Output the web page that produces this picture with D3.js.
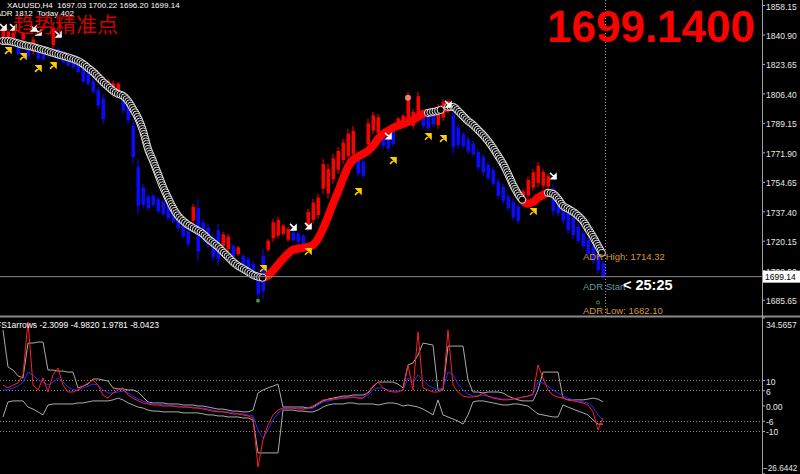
<!DOCTYPE html>
<html><head><meta charset="utf-8">
<script src="https://cdn.jsdelivr.net/npm/d3@7"></script>
<style>html,body{margin:0;padding:0;background:#000;overflow:hidden}svg{display:block}</style>
</head><body><svg id="c" width="800" height="474"></svg>
<script>
// ---------------- DATA ----------------
const priceTicks = [1858.15,1840.90,1823.65,1806.40,1789.15,1771.90,1754.65,1737.40,1720.15,1702.90,1685.65];
const subTicks = [34.5657,10,6,0,-6,-10,-26.6442];
const subLevels = [10,6,-6,-10];
const lastPrice = 1699.14;

const barHigh = [1845.3,1844.1,1843.0,1835.4,1842.4,1835.4,1839.5,1834.2,1832.5,1833.6,
1847.1,1833.6,1831.3,1828.4,1826.6,1825.4,1821.9,1819.6,1814.9,1810.2,
1806.1,1814.9,1813.7,1813.1,1807.9,1803.2,1791.5,1768.1,1753.5,1747.6,
1747.6,1745.9,1744.7,1741.8,1738.9,1735.9,1730.1,1727.2,1741.8,1744.7,
1733.0,1730.1,1724.2,1730.1,1725.4,1724.2,1718.4,1717.2,1712.5,1710.8,
1708.4,1703.8,1715.5,1721.3,1733.0,1734.2,1730.1,1728.3,1726.0,1725.4,
1724.2,1738.9,1744.7,1747.6,1768.1,1765.2,1771.0,1775.1,1779.8,1785.7,
1787.4,1769.9,1768.1,1791.5,1795.6,1794.4,1785.7,1784.5,1786.8,1792.7,
1794.4,1807.3,1797.3,1807.3,1795.6,1794.4,1795.6,1800.3,1803.2,1803.2,
1797.3,1788.6,1783.9,1781.0,1778.6,1774.0,1771.0,1766.3,1763.4,1756.4,
1753.5,1747.6,1744.7,1741.8,1750.6,1757.6,1762.2,1766.3,1762.2,1759.3,
1753.5,1747.6,1741.8,1738.9,1735.9,1730.1,1726.0,1722.5,1718.4,1715.5,1708.4];
const barLow = [1835.4,1834.2,1834.8,1828.4,1837.1,1826.6,1829.5,1825.4,1825.4,1827.8,
1832.5,1825.4,1823.7,1821.9,1820.8,1817.8,1812.0,1810.8,1806.1,1797.3,
1788.6,1807.9,1804.4,1806.1,1794.4,1788.6,1765.2,1735.9,1738.9,1737.7,
1740.0,1735.9,1734.2,1731.8,1730.1,1726.0,1721.3,1716.6,1730.1,1708.4,
1719.5,1715.5,1708.4,1705.5,1715.5,1713.7,1709.6,1711.4,1704.9,1700.8,
1696.7,1686.2,1686.2,1713.7,1719.5,1721.3,1723.1,1719.5,1719.5,1718.4,
1717.2,1726.0,1730.1,1733.0,1747.6,1744.7,1753.5,1759.3,1765.2,1766.9,
1768.1,1757.6,1756.4,1774.0,1782.7,1781.6,1774.0,1772.2,1775.1,1785.7,
1786.8,1788.6,1785.7,1790.3,1785.7,1784.5,1786.8,1785.7,1790.3,1794.4,
1771.0,1774.0,1774.0,1771.0,1769.3,1761.1,1758.2,1755.2,1751.7,1744.7,
1741.8,1737.7,1731.8,1730.1,1740.6,1744.7,1749.4,1751.7,1750.6,1750.6,
1734.8,1734.2,1730.1,1724.2,1721.3,1718.4,1715.5,1710.8,1706.7,1700.8,1697.9];
const barColor = ("rrrbrbrbbb"+"rbbbbbbbbb"+"brrrbbbbbb"+"bbbbbbbbrb"+"bbbbrrbrbb"+"bbbrrrrrbb"+
  "brrrrrrrrr"+"rbbrrrbbbr"+"rrrrbbbrrr"+"bbbbbbbbbb"+"bbbbrrrrrr"+"bbbbbbbbbbb").split("");

const maValue = [1837.1,1837.1,1836.5,1835.7,1834.8,1834.2,1833.6,1832.7,1831.9,1831.0,
1830.1,1829.2,1828.4,1827.5,1826.6,1825.4,1823.7,1821.3,1819.0,1816.1,
1813.1,1810.5,1807.9,1806.1,1805.0,1802.0,1797.3,1792.1,1784.5,1774.0,
1766.9,1759.3,1751.7,1745.3,1739.4,1734.8,1731.8,1729.5,1727.7,1726.0,
1724.2,1721.3,1719.0,1716.6,1713.7,1710.8,1707.8,1705.5,1703.8,1702.0,
1700.2,1699.1,1698.5,1699.7,1702.6,1706.1,1709.6,1712.5,1714.9,1715.5,
1716.0,1716.6,1717.8,1721.3,1727.2,1734.2,1741.8,1748.8,1756.4,1763.4,
1767.5,1769.3,1771.0,1772.8,1775.7,1779.8,1782.7,1784.5,1786.2,1787.4,
1788.6,1789.7,1790.9,1792.7,1794.4,1795.0,1795.6,1796.2,1797.3,1798.5,
1798.5,1796.2,1793.2,1790.3,1788.0,1785.1,1782.1,1778.6,1774.5,1769.9,
1765.2,1759.3,1752.9,1747.6,1743.5,1741.8,1742.9,1745.3,1747.0,1748.2,
1747.6,1744.7,1740.6,1738.9,1737.1,1734.8,1731.8,1727.2,1722.5,1717.2,1711.9];
const maTrend = ("uddddddddd"+"dddddddddd"+"dddddddddd"+"dddddddddd"+"dddddddddd"+"dduuuuuuuu"+
  "uuuuuuuuuu"+"uuuuuuuuuu"+"uuuuuudduu"+"dddddddddd"+"dddduuuuuu"+"ddddddddddd").split("");

const upArrowIdx   = [1,4,7,10,52,61,71,78,85,88,106];
const upArrowPrice = [1831.3,1827.8,1820.8,1822.5,1703.8,1713.7,1748.8,1766.9,1781.0,1779.8,1737.1];
const dnArrowIdx   = [0,2,6,7,11,58,61,77,89,110];
const dnArrowPrice = [1845.3,1845.3,1844.7,1842.4,1841.2,1728.3,1728.9,1781.6,1800.3,1758.2];

const subUpper = [29.6,15.1,13.9,11.6,10.8,24.5,24.5,24.9,24.9,13.9,
13.9,13.5,13.5,13.1,13.1,6.9,7.6,8.4,10.4,10.4,
10.0,9.6,6.9,6.5,6.5,6.1,6.1,5.3,3.3,1.4,
1.0,1.0,1.0,0.6,0.6,0.6,0.2,0.2,0.2,-0.2,
-0.2,-0.6,-1.0,-1.4,-1.4,-1.8,-2.2,-2.2,-2.5,-2.5,
-1.8,4.9,6.1,6.9,7.6,8.4,-0.6,-0.6,-0.6,-0.6,
-0.6,-1.0,-0.6,0.6,1.8,2.5,2.9,3.3,3.7,3.7,
4.1,4.1,4.1,4.9,7.3,9.2,9.2,9.2,9.2,8.4,
6.9,15.9,16.7,19.8,24.5,24.1,23.7,6.1,6.1,23.3,
23.3,23.3,23.3,10.0,5.3,5.3,4.9,5.3,5.3,5.3,
4.9,3.7,2.9,2.2,1.8,1.8,1.8,6.1,13.1,13.1,
13.1,13.1,2.9,2.2,2.2,2.2,2.2,2.5,2.9,2.5,1.4];
const subLower = [-4.5,1.4,1.8,1.8,1.8,-0.6,-1.4,-2.5,-3.7,0.2,
0.6,0.6,0.6,0.6,0.6,1.0,1.0,1.4,1.8,1.8,
1.8,1.8,2.2,2.9,2.2,1.0,0.2,-0.6,-1.0,-1.8,
-2.2,-2.2,-2.5,-2.5,-2.5,-2.5,-2.9,-2.9,-2.9,-2.9,
-3.3,-3.7,-3.7,-4.1,-4.1,-4.5,-4.5,-4.5,-4.9,-4.9,
-5.7,-18.6,-18.6,-18.6,-18.6,-18.6,-1.8,-1.8,-1.8,-2.2,
-2.2,-2.5,-2.5,-1.8,-0.6,0.2,0.6,0.6,0.6,1.0,
1.0,0.6,0.6,0.6,0.6,0.2,0.6,1.0,1.0,0.6,
-0.2,0.2,-0.2,-0.6,-1.4,-2.5,-3.7,2.2,-3.7,-4.5,
-5.3,-6.1,-7.3,-3.7,1.4,1.8,1.8,1.4,1.0,0.6,
0.2,0.2,0.6,0.6,0.2,-0.2,-1.8,-3.3,-3.7,-4.1,
-4.5,-4.5,0.2,-0.6,-1.4,-2.2,-2.9,-3.7,-5.7,-7.3,-7.3];
const subRed = [8.0,6.9,8.0,8.8,12.0,32.8,8.0,6.1,10.8,5.3,
12.0,14.7,8.0,5.3,5.3,6.1,7.6,8.8,10.0,8.0,
4.1,2.9,4.9,6.1,6.9,4.1,2.9,1.8,1.0,0.6,
0.2,0.2,-0.2,-0.2,-0.2,-0.6,-0.6,-0.6,-1.0,-1.0,
-1.4,-1.8,-2.2,-2.5,-2.5,-2.9,-3.3,-3.3,-3.7,-4.1,
-4.9,-24.1,-13.5,-7.6,-3.7,-1.8,-1.0,-1.0,-1.0,-1.4,
-1.4,-1.0,-0.2,1.0,2.2,2.2,2.5,2.9,2.9,3.3,
3.3,2.9,2.9,5.3,7.6,9.2,6.9,5.7,5.3,5.3,
6.1,15.9,6.1,28.8,6.9,6.1,5.3,5.3,6.1,29.6,
8.0,5.3,3.7,3.3,3.3,3.7,4.9,3.7,2.9,2.5,
2.2,2.2,2.5,2.9,3.3,3.7,4.5,15.9,10.8,6.1,
4.1,3.3,2.9,2.2,1.8,1.4,1.0,0.2,-2.5,-9.6,-4.9];
const subBlue = [6.1,6.1,6.9,7.6,9.2,13.1,12.0,10.0,9.2,8.0,
9.2,10.8,9.2,7.3,6.1,6.1,6.9,7.6,8.4,8.0,
6.1,4.9,4.9,5.3,5.7,4.9,3.7,2.5,1.8,1.0,
0.6,0.6,0.2,0.2,-0.2,-0.2,-0.6,-0.6,-0.6,-1.0,
-1.0,-1.4,-1.8,-2.2,-2.5,-2.5,-2.9,-3.3,-3.3,-3.7,
-4.1,-9.6,-12.8,-9.6,-5.7,-2.9,-1.4,-1.0,-1.0,-1.0,
-1.4,-1.4,-1.0,0.2,1.4,1.8,2.2,2.5,2.9,2.9,
3.3,3.3,2.9,4.1,6.1,6.9,6.9,6.1,5.7,5.7,
6.1,10.8,9.2,12.0,10.0,8.0,6.9,6.1,6.9,13.1,
12.0,8.4,6.1,4.5,3.7,3.7,4.1,3.7,3.3,2.9,
2.5,2.5,2.5,2.9,3.3,3.7,4.1,9.2,8.8,7.6,
6.1,4.9,3.7,2.9,2.2,1.8,1.4,1.0,-0.6,-3.7,-5.7];

// ---------------- DRAW ----------------
const svg = d3.select('#c');
const FONT = "'Liberation Sans', Arial, sans-serif";
const axisX = 762, mainBot = 316;
svg.append('rect').attr('width',800).attr('height',474).attr('fill','#000');

const n = barHigh.length;
const x = d3.scaleLinear().domain([0, n-1]).range([3, 603]);
const y = d3.scaleLinear().domain([1676.11, 1861.08]).range([316, 0]);
const ys = d3.scaleLinear().domain([-26.6442, 34.5657]).range([473.4, 317.4]);

const defs = svg.append('defs');
defs.append('clipPath').attr('id','cm').append('rect').attr('x',0).attr('y',0).attr('width',axisX).attr('height',mainBot);
defs.append('clipPath').attr('id','cs').append('rect').attr('x',0).attr('y',318).attr('width',axisX).attr('height',156);

const gm = svg.append('g').attr('clip-path','url(#cm)');
const gs = svg.append('g').attr('clip-path','url(#cs)');

// dotted vertical
gm.append('line').attr('x1',605.5).attr('x2',605.5).attr('y1',0).attr('y2',mainBot)
  .attr('stroke','#9a9a9a').attr('stroke-dasharray','1,2');

// bars: thin wick + body
gm.selectAll('line.wick').data(d3.range(n)).join('line').attr('class','wick')
  .attr('x1', i => x(i)).attr('x2', i => x(i))
  .attr('y1', i => y(barHigh[i])).attr('y2', i => y(barLow[i]))
  .attr('stroke', i => barColor[i] === 'r' ? '#ff0000' : '#0a0aff').attr('stroke-width',1);
gm.selectAll('rect.bar').data(d3.range(n)).join('rect').attr('class','bar')
  .attr('x', i => x(i) - 1.5).attr('width', 3.5)
  .attr('y', i => y(barHigh[i]) + (y(barLow[i]) - y(barHigh[i])) * 0.15)
  .attr('height', i => Math.max(1, (y(barLow[i]) - y(barHigh[i])) * 0.7))
  .attr('fill', i => barColor[i] === 'r' ? '#ff0000' : '#0a0aff');

// MA runs
const runs = [];
let s = 0;
for (let i = 1; i <= n; i++) {
  if (i === n || maTrend[i] !== maTrend[s]) { runs.push({t: maTrend[s], s, e: i-1}); s = i; }
}
const maLine = d3.line().x(i => x(i)).y(i => y(maValue[i])).curve(d3.curveMonotoneX);
runs.filter(r => r.t === 'u').forEach(r => {
  const idx = d3.range(Math.max(0, r.s-1), Math.min(n-1, r.e+1) + 1);
  gm.append('path').attr('d', maLine(idx)).attr('fill','none')
    .attr('stroke','#ff0000').attr('stroke-width',8).attr('stroke-linecap','round');
});
runs.filter(r => r.t === 'd').forEach(r => {
  const idx = d3.range(Math.max(0, r.s-1), Math.min(n-1, r.e+1) + 1);
  const p = gm.append('path').attr('d', maLine(idx)).attr('fill','none').attr('stroke','none');
  const node = p.node(), L = node.getTotalLength();
  const pts = d3.range(0, L + 0.01, 2.6).map(l => node.getPointAtLength(l));
  gm.append('g').selectAll('circle').data(pts).join('circle')
    .attr('cx', d => d.x).attr('cy', d => d.y).attr('r', 3.6)
    .attr('fill','#000').attr('stroke','#e8e8e8').attr('stroke-width',1);
});

// arrows
const upPath = 'M-3,3 L2,-2 M3,-3 L-1.5,-3 L3,1.5 Z';
const dnPath = 'M-3,-3 L2,2 M3,3 L-1.5,3 L3,-1.5 Z';
gm.selectAll('path.up').data(d3.range(upArrowIdx.length)).join('path').attr('class','up')
  .attr('transform', k => `translate(${x(upArrowIdx[k])},${y(upArrowPrice[k])})`)
  .attr('d', upPath).attr('stroke','#ffd000').attr('stroke-width',1.6).attr('fill','#ffd000');
gm.selectAll('path.dn').data(d3.range(dnArrowIdx.length)).join('path').attr('class','dn')
  .attr('transform', k => `translate(${x(dnArrowIdx[k])},${y(dnArrowPrice[k])})`)
  .attr('d', dnPath).attr('stroke','#ffffff').attr('stroke-width',1.6).attr('fill','#ffffff');
gm.append('circle').attr('cx', x(81)).attr('cy', y(1803.8)).attr('r',3).attr('fill','#f08080');
gm.append('circle').attr('cx', x(51)).attr('cy', y(1685.0)).attr('r',2).attr('fill','#3a9a3a');
gm.append('circle').attr('cx', x(119)).attr('cy', y(1684.0)).attr('r',1.5).attr('fill','none').attr('stroke','#3a9a3a');

// price line
gm.append('line').attr('x1',0).attr('x2',axisX).attr('y1', y(lastPrice)).attr('y2', y(lastPrice))
  .attr('stroke','#8a8a8a').attr('stroke-width',1);

// texts main
svg.append('text').attr('x',7).attr('y',8.3).attr('fill','#fff').attr('font-size','8px').attr('font-family',FONT)
  .attr('xml:space','preserve').text('XAUUSD,H4  1697.03 1700.22 1696.20 1699.14');
svg.append('text').attr('x',-4.3).attr('y',15.5).attr('fill','#fff').attr('font-size','8px').attr('font-family',FONT)
  .attr('xml:space','preserve').text('ADR 1812  Today 402');
svg.append('text').attr('x',13).attr('y',32).attr('fill','#d40000').attr('font-size','21px')
  .attr('font-family',"'Noto Sans CJK SC', sans-serif").text('趋势精准点');
svg.append('text').attr('x',547).attr('y',42).attr('fill','#ff0000').attr('font-size','44px').attr('font-weight','bold')
  .attr('font-family',FONT).text('1699.1400');
svg.append('text').attr('x',583).attr('y',259.5).attr('fill','#d9963c').attr('font-size','9.5px').attr('font-family',FONT).text('ADR High: 1714.32');
svg.append('text').attr('x',583).attr('y',289.5).attr('fill','#5f9ea0').attr('font-size','9.5px').attr('font-family',FONT).text('ADR Start');
svg.append('text').attr('x',623).attr('y',290).attr('fill','#ffffff').attr('font-size','14.5px').attr('font-weight','bold').attr('font-family',FONT).text('< 25:25');
svg.append('text').attr('x',583).attr('y',314).attr('fill','#d9963c').attr('font-size','9.5px').attr('font-family',FONT).text('ADR Low: 1682.10');

// sub panel
subLevels.forEach(v => {
  gs.append('line').attr('x1',0).attr('x2',axisX).attr('y1', Math.round(ys(v))+0.5).attr('y2', Math.round(ys(v))+0.5)
    .attr('stroke','#8c8c8c').attr('stroke-dasharray','1,2');
});
const sl = arr => d3.line().x((d,i) => x(i)).y(d => ys(d))(arr);
gs.append('path').attr('d', sl(subUpper)).attr('fill','none').attr('stroke','#aaaaaa').attr('stroke-width',1);
gs.append('path').attr('d', sl(subLower)).attr('fill','none').attr('stroke','#aaaaaa').attr('stroke-width',1);
gs.append('path').attr('d', sl(subBlue)).attr('fill','none').attr('stroke','#2a2aff').attr('stroke-width',1);
gs.append('path').attr('d', sl(subRed)).attr('fill','none').attr('stroke','#ff2020').attr('stroke-width',1);
svg.append('text').attr('x',-4).attr('y',327.5).attr('fill','#fff').attr('font-size','8.5px').attr('font-family',FONT)
  .text('FS1arrows -2.3099 -4.9820 1.9781 -8.0423');

// separator
svg.append('line').attr('x1',0).attr('x2',800).attr('y1',316.5).attr('y2',316.5).attr('stroke','#8a8a8a').attr('stroke-width',2);

// axes
const ga = svg.append('g').attr('transform',`translate(${axisX},0)`)
  .call(d3.axisRight(y).tickValues(priceTicks).tickFormat(d3.format('.2f')).tickSize(3).tickPadding(1));
const gsa = svg.append('g').attr('transform',`translate(${axisX},0)`)
  .call(d3.axisRight(ys).tickValues(subTicks).tickFormat(d => d === 0 ? '0.00' : (Number.isInteger(d) ? d : d3.format('.4f')(d))).tickSize(3).tickPadding(1));
[ga, gsa].forEach(g => {
  g.select('.domain').remove();
  g.selectAll('line').attr('stroke','#b0b0b0');
  g.selectAll('text').attr('fill','#e6e6e6').attr('font-size','8.5px').attr('font-family',FONT).attr('dy','0.47em');
});
gsa.selectAll('.tick').filter(d => d === 34.5657).select('text').attr('dy','1.2em');
gsa.selectAll('.tick').filter(d => d === -26.6442).select('text').attr('dy','-0.3em').attr('x',1).attr('font-size','8.2px');
svg.append('line').attr('x1',axisX+0.5).attr('x2',axisX+0.5).attr('y1',0).attr('y2',474).attr('stroke','#a0a0a0');

// last price label
const lp = y(lastPrice);
svg.append('rect').attr('x',763).attr('y',lp-6).attr('width',37).attr('height',12).attr('fill','#ffffff');
svg.append('text').attr('x',765).attr('y',lp+3.5).attr('fill','#000').attr('font-size','8.5px').attr('font-family',FONT).text(d3.format('.2f')(lastPrice));
</script>
</body></html>
